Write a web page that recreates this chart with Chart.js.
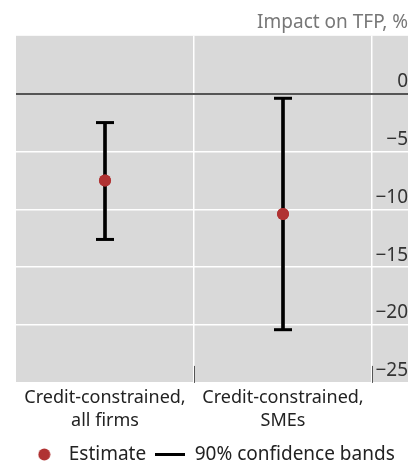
<!DOCTYPE html>
<html>
<head>
<meta charset="utf-8">
<script src="https://cdn.jsdelivr.net/npm/chart.js@4/dist/chart.umd.min.js"></script>
<style>
  html, body { margin: 0; padding: 0; background: #fff; }
  #wrap { width: 408px; height: 461px; }
</style>
</head>
<body>
<div id="wrap"><canvas id="c"></canvas></div>
<script>
// Categories and estimates (impact on TFP, %)
const categories = [["Credit-constrained,", "all firms"], ["Credit-constrained,", "SMEs"]];
const estimates = [-7.5, -10.4];
const bandLower = [-12.6, -20.4];
const bandUpper = [-2.5, -0.4];
const yTicks = [0, -5, -10, -15, -20, -25];

const FONT = "'Noto Sans', 'Open Sans', sans-serif";
const RED = '#b03232';
const PANEL = '#d9d9d9';

function legendIcon(kind) {
  const cv = document.createElement('canvas');
  const c = cv.getContext('2d');
  if (kind === 'dot') {
    cv.width = 13; cv.height = 13;
    c.fillStyle = RED;
    c.beginPath(); c.arc(6.5, 6.5, 6, 0, Math.PI * 2); c.fill();
  } else {
    cv.width = 30; cv.height = 3;
    c.fillStyle = '#000';
    c.fillRect(0, 0, 30, 3);
  }
  return cv;
}

// same pixel snapping the scale uses for its grid lines
const snap = (p, w) => Math.round(p - w / 2) + w / 2;

// Panel background, grid extension into the axis strip, and bottom tick marks
const panelPlugin = {
  id: 'panel',
  beforeDraw(chart) {
    const { ctx, chartArea: a } = chart;
    ctx.save();
    ctx.fillStyle = PANEL;
    ctx.fillRect(a.left, a.top, chart.width - a.left, a.bottom - a.top);
    ctx.restore();
  },
  beforeDatasetsDraw(chart) {
    const { ctx, chartArea: a, scales: { x, y } } = chart;
    ctx.save();
    // horizontal lines continue under the value labels
    y.ticks.forEach(t => {
      if (t.value > 0) return;
      const w = t.value === 0 ? 2 : 1.5;
      const py = snap(y.getPixelForValue(t.value), w);
      ctx.strokeStyle = t.value === 0 ? '#555' : '#fff';
      ctx.lineWidth = w;
      ctx.beginPath(); ctx.moveTo(a.right, py); ctx.lineTo(chart.width, py); ctx.stroke();
    });
    // small tick marks at category boundaries
    const p0 = x.getPixelForValue(0), p1 = x.getPixelForValue(1);
    const marks = [(p0 + p1) / 2, a.right];
    ctx.strokeStyle = '#555';
    ctx.lineWidth = 1;
    marks.forEach(mx => {
      const px = Math.round(mx) + 0.5;
      ctx.beginPath(); ctx.moveTo(px, a.bottom - 17); ctx.lineTo(px, a.bottom); ctx.stroke();
    });
    ctx.restore();
  },
  afterDatasetsDraw(chart) {
    // caps on the confidence bands
    const meta = chart.getDatasetMeta(1);
    const { ctx } = chart;
    ctx.save();
    ctx.strokeStyle = '#000';
    ctx.lineWidth = 3;
    meta.data.forEach(bar => {
      [bar.y, bar.base].forEach(py => {
        ctx.beginPath(); ctx.moveTo(bar.x - 9, py); ctx.lineTo(bar.x + 9, py); ctx.stroke();
      });
    });
    ctx.restore();
    // estimate dots stay on top
    chart.getDatasetMeta(0).data.forEach(pt => pt.draw(ctx, chart.chartArea));
  }
};

new Chart(document.getElementById('c'), {
  data: {
    labels: categories,
    datasets: [
      {
        type: 'line',
        label: 'Estimate',
        data: estimates,
        showLine: false,
        pointRadius: 6,
        pointHoverRadius: 6,
        pointBackgroundColor: RED,
        pointBorderWidth: 0,
        borderColor: RED,
        order: 0
      },
      {
        type: 'bar',
        label: '90% confidence bands',
        data: bandLower.map((lo, i) => [lo, bandUpper[i]]),
        backgroundColor: '#000',
        barThickness: 3,
        borderSkipped: false,
        order: 1
      }
    ]
  },
  plugins: [panelPlugin],
  options: {
    responsive: true,
    maintainAspectRatio: false,
    animation: false,
    layout: { padding: { left: 16, right: 0, top: 0, bottom: -13 } },
    scales: {
      x: {
        type: 'category',
        offset: true,
        border: { display: false },
        grid: {
          offset: true,
          drawTicks: false,
          color: c => (c.index === 0 ? 'rgba(0,0,0,0)' : '#ffffff'),
          lineWidth: 1.5
        },
        ticks: {
          color: '#222',
          padding: 3.5,
          maxRotation: 0,
          autoSkip: false,
          font: { family: FONT, size: 18, lineHeight: 1.28 }
        }
      },
      y: {
        position: 'right',
        min: -25,
        max: 5,
        border: { display: false },
        afterBuildTicks: s => { s.ticks = [5].concat(yTicks).map(v => ({ value: v })); },
        afterFit: s => { s.width = 36; },
        grid: {
          drawTicks: false,
          color: c => (c.tick && c.tick.value === 0 ? '#555' : (c.tick && c.tick.value === 5 ? 'rgba(0,0,0,0)' : '#ffffff')),
          lineWidth: c => (c.tick && c.tick.value === 0 ? 2 : 1.5)
        },
        ticks: {
          color: '#333',
          padding: 1,
          crossAlign: 'far',
          labelOffset: -12,
          font: { family: FONT, size: 19 },
          callback: v => (v > 0 ? '' : (v < 0 ? '\u2212' + Math.abs(v) : String(v)))
        }
      }
    },
    plugins: {
      title: {
        display: true,
        text: 'Impact on TFP, %',
        align: 'end',
        color: '#777',
        font: { family: FONT, size: 19, weight: 'normal' },
        padding: { top: 11, bottom: 2 }
      },
      legend: {
        position: 'bottom',
        labels: {
          usePointStyle: true,
          pointStyleWidth: 30,
          padding: 9,
          color: '#222',
          font: { family: FONT, size: 19 },
          generateLabels: chart => chart.data.datasets.map((d, i) => ({
            text: d.label,
            datasetIndex: i,
            pointStyle: legendIcon(i === 0 ? 'dot' : 'line'),
            fillStyle: 'rgba(0,0,0,0)',
            strokeStyle: 'rgba(0,0,0,0)',
            lineWidth: 0,
            fontColor: '#222'
          }))
        }
      },
      tooltip: { enabled: false }
    }
  }
});
</script>
</body>
</html>
